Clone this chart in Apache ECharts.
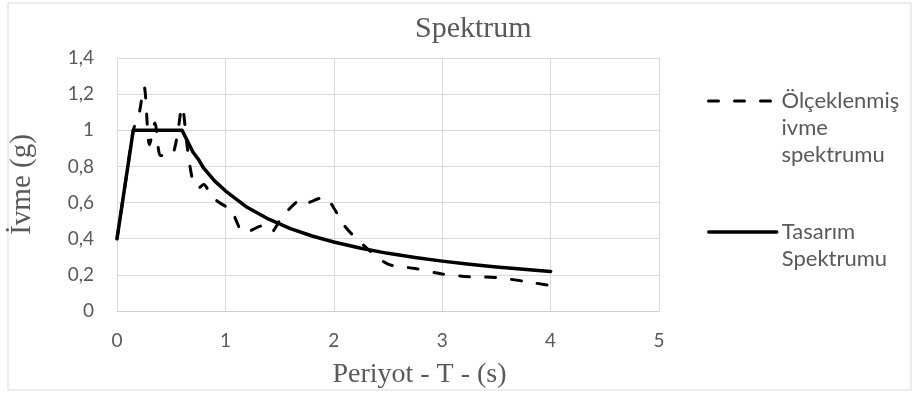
<!DOCTYPE html>
<html>
<head>
<meta charset="utf-8">
<script src="https://cdn.jsdelivr.net/npm/echarts@6/dist/echarts.min.js"></script>
<style>
  html, body { margin: 0; padding: 0; background: #fff; }
  #chart { width: 915px; height: 394px; }
</style>
</head>
<body>
<div id="chart"></div>
<script>
  // Ölçeklenmiş ivme spektrumu (kesikli çizgi)
  const measuredT = [0, 0.05, 0.1, 0.15, 0.2, 0.25, 0.3, 0.35, 0.4, 0.45, 0.5, 0.55, 0.6, 0.65, 0.7, 0.75, 0.8, 0.85, 0.9, 1.0, 1.05, 1.1, 1.15, 1.2, 1.25, 1.33, 1.42, 1.5, 1.55, 1.65, 1.7, 1.76, 1.85, 1.92, 2.0, 2.1, 2.3, 2.5, 2.75, 3.0, 3.25, 3.5, 3.75, 4.0];
  const measuredSa = [0.4, 0.6, 0.8, 1.0, 1.08, 1.24, 0.92, 1.04, 0.86, 0.86, 0.86, 0.95, 1.13, 0.9, 0.72, 0.68, 0.7, 0.66, 0.62, 0.58, 0.57, 0.5, 0.44, 0.435, 0.45, 0.47, 0.435, 0.5, 0.54, 0.6, 0.62, 0.6, 0.62, 0.63, 0.57, 0.47, 0.35, 0.26, 0.235, 0.205, 0.19, 0.185, 0.165, 0.14];

  // Tasarım spektrumu (düz çizgi)
  const designT = [0, 0.15, 0.6, 0.65, 0.7, 0.75, 0.8, 0.9, 1.0, 1.2, 1.4, 1.6, 1.8, 2.0, 2.25, 2.5, 2.75, 3.0, 3.25, 3.5, 3.75, 4.0];
  const designSa = [0.4, 1.0, 1.0, 0.94, 0.88, 0.84, 0.79, 0.72, 0.665, 0.574, 0.508, 0.456, 0.415, 0.382, 0.347, 0.319, 0.296, 0.276, 0.259, 0.244, 0.231, 0.219];

  const xTicks = [0, 1, 2, 3, 4, 5];
  const yTicks = [0, 0.2, 0.4, 0.6, 0.8, 1, 1.2, 1.4];

  const measuredName = 'Ölçeklenmiş\nivme\nspektrumu';
  const designName = 'Tasarım\nSpektrumu';

  const TEXT_COLOR = '#595959';
  const GRID_COLOR = '#d9d9d9';
  const LEGEND_LH = 27;

  const chart = echarts.init(document.getElementById('chart'));

  // legend: ikon ilk satır hizasında olsun diye üstte boş satırlar
  const legendBase = {
    orient: 'vertical',
    left: 707,
    padding: 0,
    itemWidth: 68,
    itemHeight: 14,
    itemStyle: { color: 'rgba(0,0,0,0)', borderColor: 'rgba(0,0,0,0)', borderWidth: 0, opacity: 0 },
    textStyle: {
      fontFamily: 'Lato',
      fontSize: 22,
      color: TEXT_COLOR,
      lineHeight: LEGEND_LH,
    },
  };

  const option = {
    backgroundColor: '#fff',
    animation: false,
    title: {
      text: 'Spektrum',
      left: 415,
      top: 14,
      padding: 0,
      textStyle: {
        fontFamily: 'Liberation Serif',
        fontWeight: 'normal',
        fontSize: 30,
        color: TEXT_COLOR,
      },
    },
    graphic: [
      {
        type: 'rect',
        shape: { x: 8, y: 3, width: 903, height: 387 },
        style: { fill: 'none', stroke: GRID_COLOR, lineWidth: 1 },
        silent: true,
      },
    ],
    legend: [
      Object.assign({}, legendBase, {
        data: [measuredName],
        top: 101 - (LEGEND_LH * 5) / 2,
        formatter: '\n\n{name}',
        lineStyle: { width: 3 },
      }),
      Object.assign({}, legendBase, {
        data: [designName],
        top: 232 - (LEGEND_LH * 3) / 2,
        formatter: '\n{name}',
        lineStyle: { width: 3.5 },
      }),
    ],
    grid: {
      left: 110,
      right: 256,
      top: 58,
      bottom: 74,
      containLabel: false,
    },
    xAxis: {
      type: 'value',
      min: xTicks[0],
      max: xTicks[xTicks.length - 1],
      interval: 1,
      name: 'Periyot - T - (s)',
      nameLocation: 'middle',
      nameGap: 50,
      nameTextStyle: {
        fontFamily: 'Liberation Serif',
        fontSize: 28,
        color: TEXT_COLOR,
        padding: [0, 0, 0, 63],
      },
      axisLine: { show: true, lineStyle: { color: '#d0d0d0', width: 1 } },
      axisTick: { show: false },
      axisLabel: {
        margin: 20,
        fontFamily: 'Lato',
        fontSize: 19,
        color: TEXT_COLOR,
      },
      splitLine: { show: true, lineStyle: { color: GRID_COLOR, width: 1 } },
    },
    yAxis: {
      type: 'value',
      min: yTicks[0],
      max: yTicks[yTicks.length - 1],
      interval: 0.2,
      name: 'İvme (g)',
      nameLocation: 'middle',
      nameGap: 80,
      nameTextStyle: {
        fontFamily: 'Liberation Serif',
        fontSize: 29,
        color: TEXT_COLOR,
      },
      axisLine: { show: false },
      axisTick: { show: false },
      axisLabel: {
        margin: 23,
        fontFamily: 'Lato',
        fontSize: 19,
        color: TEXT_COLOR,
        formatter: (v) => String(Math.round(v * 10) / 10).replace('.', ','),
      },
      splitLine: { show: true, lineStyle: { color: GRID_COLOR, width: 1 } },
    },
    series: [
      {
        name: measuredName,
        type: 'line',
        data: measuredT.map((t, i) => [t, measuredSa[i]]),
        showSymbol: false,
        symbol: 'none',
        smooth: 0.3,
        lineStyle: { color: '#000', width: 3, type: [10, 16], cap: 'round' },
        itemStyle: { color: '#000' },
        z: 3,
      },
      {
        name: designName,
        type: 'line',
        data: designT.map((t, i) => [t, designSa[i]]),
        showSymbol: false,
        symbol: 'none',
        smooth: false,
        lineStyle: { color: '#000', width: 3.5, cap: 'round', join: 'round' },
        itemStyle: { color: '#000' },
        z: 2,
      },
    ],
  };

  chart.setOption(option);
</script>
</body>
</html>
